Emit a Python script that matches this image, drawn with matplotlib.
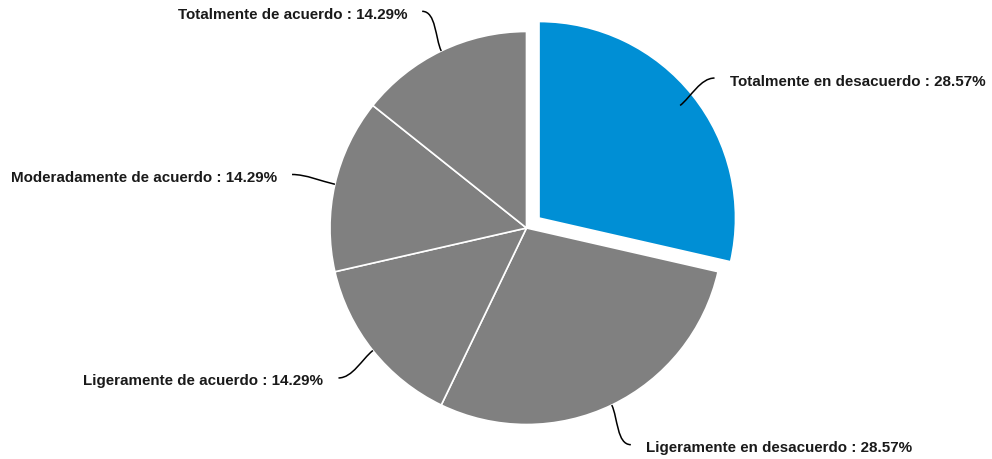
import numpy as np
import matplotlib
matplotlib.use('Agg')
from matplotlib import pyplot as plt
from matplotlib.path import Path
from matplotlib.patches import PathPatch

plt.rcParams['font.family'] = ['Liberation Sans', 'DejaVu Sans']

# datos
categorias = ['Totalmente en desacuerdo', 'Ligeramente en desacuerdo',
              'Ligeramente de acuerdo', 'Moderadamente de acuerdo',
              'Totalmente de acuerdo']
valores = [2, 2, 1, 1, 1]
porcentajes = ['28.57%', '28.57%', '14.29%', '14.29%', '14.29%']
colores = ['#008fd5', '#808080', '#808080', '#808080', '#808080']
separado = [16, 0, 0, 0, 0]

W, H = 992, 459
fig = plt.figure(figsize=(W / 100, H / 100), dpi=100)
ax = fig.add_axes([0, 0, 1, 1])

cx, cy = 526.5, H - 228
r = 196.5

ax.pie(valores, center=(cx, cy), radius=r, startangle=90, counterclock=False,
       explode=separado, colors=colores,
       wedgeprops=dict(edgecolor='white', linewidth=1.2))
ax.set_xlim(0, W)
ax.set_ylim(0, H)
ax.set_aspect('equal')
ax.axis('off')

total = float(sum(valores))
ang0 = 90.0
for cat, v, p in zip(categorias, valores, porcentajes):
    ang1 = ang0 - 360.0 * v / total
    th = np.deg2rad((ang0 + ang1) / 2)
    ang0 = ang1
    u = np.array([np.cos(th), np.sin(th)])
    c = np.array([cx, cy])
    p0 = c + r * u
    p3 = c + (r + 44) * u
    s = 1 if u[0] >= 0 else -1
    p1 = p0 + 14 * u
    p2 = p3 - np.array([s * 14, 0])
    camino = Path([p0, p1, p2, p3], [Path.MOVETO, Path.CURVE4, Path.CURVE4, Path.CURVE4])
    ax.add_patch(PathPatch(camino, fill=False, edgecolor='#000000', linewidth=1.1))
    ax.text(p3[0] + s * 15, p3[1] - 3.5, '{} : {}'.format(cat, p),
            ha='left' if s > 0 else 'right', va='center',
            fontsize=10.9, fontweight='bold', color='#1a1a1a')

fig.savefig('out.png', dpi=100)
